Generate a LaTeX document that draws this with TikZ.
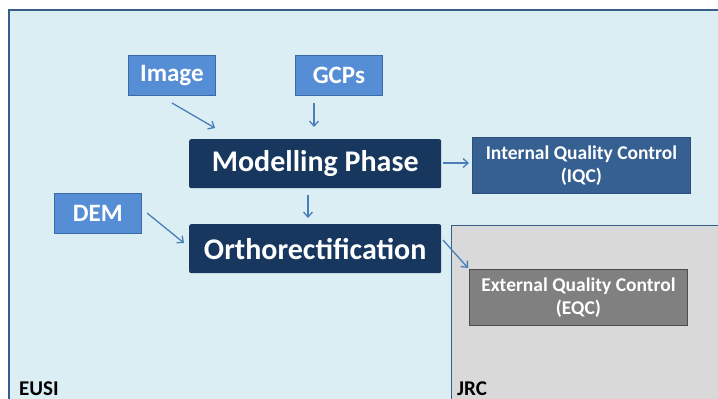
\documentclass[tikz,border=0pt]{standalone}
\usepackage{fontspec}
\setmainfont{Carlito}
\usetikzlibrary{arrows.meta}
\definecolor{bgblue}{HTML}{DBEEF4}
\definecolor{frameblue}{HTML}{385D8A}
\definecolor{lightbox}{HTML}{558ED5}
\definecolor{lightboxb}{HTML}{3A6BA8}
\definecolor{navy}{HTML}{17375E}
\definecolor{midblue}{HTML}{376092}
\definecolor{arrowc}{HTML}{4A7EBB}
\definecolor{jrcgray}{HTML}{D9D9D9}
\definecolor{eqcgray}{HTML}{808080}
\tikzset{
  inbox/.style={draw=lightboxb, fill=lightbox, line width=0.8pt, text=white, font=\bfseries\fontsize{25}{28}\selectfont, minimum width=87pt, minimum height=40pt, inner sep=0pt, anchor=north west},
  phase/.style={fill=navy, rounded corners=2pt, text=white, font=\bfseries\fontsize{30}{34}\selectfont, minimum width=252pt, minimum height=49pt, inner sep=0pt, anchor=north west},
  qcbox/.style={line width=0.8pt, text=white, font=\bfseries\fontsize{19.5}{23}\selectfont, minimum width=218pt, minimum height=56pt, inner sep=0pt, align=center, anchor=north west},
  conn/.style={draw=arrowc, line width=1.3pt, -{Straight Barb[length=5pt,width=9pt]}},
  lab/.style={font=\bfseries\fontsize{21}{24}\selectfont, anchor=base west, inner sep=0pt}
}
\begin{document}
\begin{tikzpicture}[x=1pt,y=-1pt]
\useasboundingbox (0,0) rectangle (718,399);
\fill[white] (0,0) rectangle (718,399);
\fill[bgblue] (9,10) rectangle (730,410);
\draw[frameblue, line width=1.5pt] (9,410) -- (9,10) -- (730,10);
\fill[jrcgray] (451,225) rectangle (730,410);
\draw[frameblue, line width=1pt] (451,410) -- (451,225) -- (730,225);

\node[inbox] (img) at (128,55) {Image};
\node[inbox] (gcp) at (295,55) {GCPs};
\node[inbox] (dem) at (54,193) {DEM};
\node[phase] (mod) at (189,139) {Modelling Phase};
\node[phase] (ort) at (189,224) {Orthorectification};
\node[qcbox, draw=midblue!80!black, fill=midblue] (iqc) at (472,137) {Internal Quality Control\\(IQC)};
\node[qcbox, draw=black!70, fill=eqcgray] (eqc) at (469,269) {External Quality Control\\(EQC)};

\node[lab] (eusi) at (19,395) {EUSI};
\node[lab] (jrc) at (457,395) {JRC};

\coordinate (a1s) at (172,103); \coordinate (a1e) at (215,128);
\coordinate (a2s) at (314,103); \coordinate (a2e) at (314,127);
\coordinate (a3e) at (469,163);
\coordinate (a4s) at (308,195); \coordinate (a4e) at (308,218);
\coordinate (a5s) at (147,213); \coordinate (a5e) at (184,243);
\coordinate (a6s) at (443,240); \coordinate (a6e) at (468,268);
\draw[conn] (a1s) -- (a1e);
\draw[conn] (a2s) -- (a2e);
\draw[conn] (mod.east |- a3e) ++(2,0) -- (a3e);
\draw[conn] (a4s) -- (a4e);
\draw[conn] (a5s) -- (a5e);
\draw[conn] (a6s) -- (a6e);
\end{tikzpicture}
\end{document}
